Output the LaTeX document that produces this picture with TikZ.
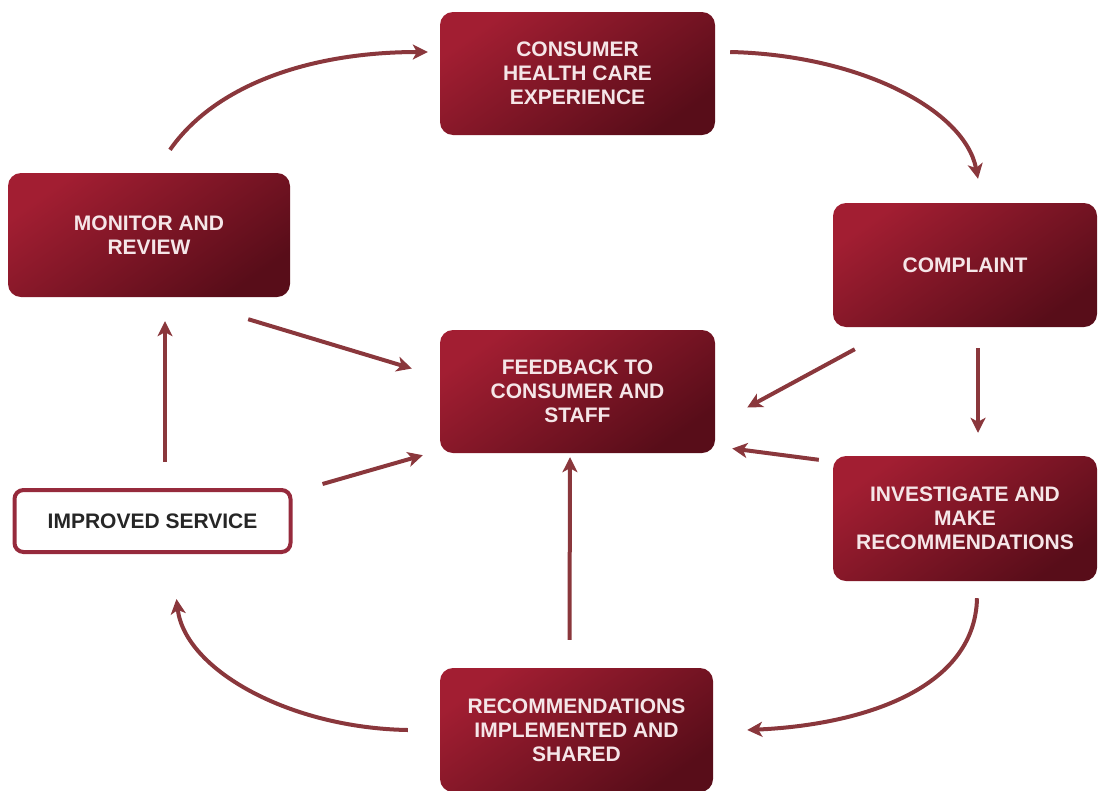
\documentclass[tikz,border=0pt]{standalone}
\usepackage{fontspec}
\setmainfont{Liberation Sans}
\usetikzlibrary{calc,arrows.meta}
\definecolor{boxtop}{RGB}{162,30,50}
\definecolor{boxbot}{RGB}{88,13,25}
\definecolor{arrowc}{RGB}{138,55,60}
\definecolor{txtc}{RGB}{245,230,232}
\definecolor{frame}{RGB}{150,42,60}
\tikzset{
  stagebox/.style={rectangle, rounded corners=13pt, top color=boxtop, bottom color=boxbot, shading angle=35, draw=none,
    minimum width=275pt, minimum height=123pt, align=center, text=txtc,
    font=\fontsize{21}{24}\selectfont\bfseries, inner sep=0pt},
  outbox/.style={rectangle, rounded corners=9pt, draw=frame, line width=4pt, fill=white,
    minimum width=276pt, minimum height=62pt, align=center, text=black!85,
    font=\fontsize{21}{24}\selectfont\bfseries, inner sep=0pt},
  flow/.style={draw=arrowc, line width=4pt, -{Stealth[length=15pt,width=15pt,inset=4pt]}}
}
\begin{document}
\begin{tikzpicture}[x=1pt,y=-1pt]
\useasboundingbox (0,0) rectangle (1099,790);
\node[stagebox] (cons) at (577.5,73.5) {CONSUMER\\HEALTH CARE\\EXPERIENCE};
\node[stagebox, minimum width=282pt, minimum height=124pt] (mon) at (149,235) {MONITOR AND\\REVIEW};
\node[stagebox, minimum width=264pt, minimum height=124pt] (comp) at (965,265) {COMPLAINT};
\node[stagebox] (fb) at (577.5,391.5) {FEEDBACK TO\\CONSUMER AND\\STAFF};
\node[stagebox, minimum width=264pt, minimum height=125pt] (inv) at (965,518.5) {INVESTIGATE AND\\MAKE\\RECOMMENDATIONS};
\node[outbox] (imp) at (152.5,521) {IMPROVED SERVICE};
\node[stagebox, minimum width=273pt, minimum height=124pt] (rec) at (576.5,730) {RECOMMENDATIONS\\IMPLEMENTED AND\\SHARED};

% curved cycle arrows
\draw[flow] ($(mon.north)+(21,-23)$) .. controls (215,85) and (310,52) .. ($(cons.west)+(-12,-21.5)$);
\draw[flow] ($(cons.east)+(15,-21.5)$) .. controls (860,55) and (965,110) .. ($(comp.north)+(13,-24)$);
\draw[flow] ($(inv.south)+(12,17)$) .. controls (975,690) and (860,725) .. ($(rec.east)+(34,0)$);
\draw[flow] ($(rec.west)+(-32,0)$) .. controls (290,728) and (185,670) .. ($(imp.south)+(24,45)$);
% straight arrows
\draw[flow] ($(imp.north)+(12.5,-26)$) -- ($(mon.south)+(16,24)$);
\draw[flow] ($(mon.south east)+(-42,22)$) -- ($(fb.west)+(-28,-23)$);
\draw[flow] ($(imp.north east)+(30,-4)$) -- ($(fb.south west)+(-17,2)$);
\draw[flow] ($(rec.north)+(-7,-28)$) -- ($(fb.south)+(-7.5,4)$);
\draw[flow] ($(comp.south west)+(22,22)$) -- ($(fb.east)+(32,16)$);
\draw[flow] ($(comp.south)+(13,21)$) -- ($(inv.north)+(13,-23)$);
\draw[flow] ($(inv.north west)+(-14,4)$) -- ($(fb.east)+(17,57)$);
\end{tikzpicture}
\end{document}
